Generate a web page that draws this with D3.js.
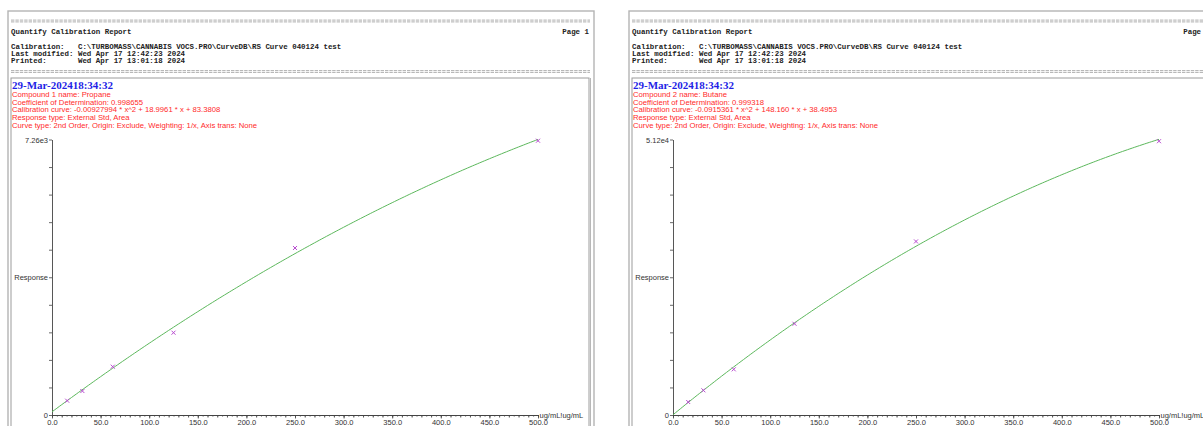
<!DOCTYPE html>
<html>
<head>
<meta charset="utf-8">
<script src="https://cdn.jsdelivr.net/npm/d3@7"></script>
<style>
  html, body { margin: 0; padding: 0; background: #fff; }
  svg { display: block; }
  .mono { font-family: "Liberation Mono", "DejaVu Sans Mono", monospace; font-weight: bold; fill: #222; }
  .sans { font-family: "Liberation Sans", Arial, sans-serif; }
</style>
</head>
<body>
<svg id="chart" width="1203" height="426"></svg>
<script>
// Calibration standards (ug/mL) shared by both compounds
const concentrations = [15.625, 31.25, 62.5, 125, 250, 500];

// Measured responses (area) per compound
const propaneResponse = [377, 632, 1273, 2169, 4401, 7228];
const butaneResponse  = [2414, 4587, 8487, 16955, 32257, 50884];

// Quadratic calibration coefficients [a, b, c] for a*x^2 + b*x + c
const propaneCoef = [-0.00927994, 18.9961, 83.3808];
const butaneCoef  = [-0.0915361, 148.160, 38.4953];

// Response axis maxima and their labels
const responseMax    = [7260, 51200];
const responseLabels = ["7.26e3", "5.12e4"];

// Concentration axis ticks
const xMajorTicks = [0, 50, 100, 150, 200, 250, 300, 350, 400, 450, 500];
const xDomain = [0, 500];

// Report header text
const headerLines = [
  "Calibration:   C:\\TURBOMASS\\CANNABIS VOCS.PRO\\CurveDB\\RS Curve 040124 test",
  "Last modified: Wed Apr 17 12:42:23 2024",
  "Printed:       Wed Apr 17 13:01:18 2024"
];
const runStamp = "29-Mar-202418:34:32";
const compoundNames = ["Compound 1 name: Propane", "Compound 2 name: Butane"];
const r2Values = ["0.998655", "0.999318"];
const curveText = [
  "Calibration curve: -0.00927994 * x^2 + 18.9961 * x + 83.3808",
  "Calibration curve: -0.0915361 * x^2 + 148.160 * x + 38.4953"
];
const pageLabels = ["Page 1", "Page 1"];

const svg = d3.select("#chart");

function drawPage(i, dx) {
  const g = svg.append("g").attr("transform", `translate(${dx},0)`);

  // paper outline
  g.append("rect").attr("x", 8).attr("y", 11).attr("width", 586).attr("height", 600)
    .attr("fill", "#fff").attr("stroke", "#b4b4b4").attr("stroke-width", 1.4);

  // "====" separator rules
  [21, 71.5].forEach(yy => {
    [-0.9, 0.9].forEach(o => {
      g.append("line").attr("x1", 11).attr("x2", 590).attr("y1", yy + o).attr("y2", yy + o)
        .attr("stroke", "#9a9a9a").attr("stroke-width", 0.8).attr("stroke-dasharray", "3.4,1");
    });
  });

  g.append("text").attr("class", "mono").attr("x", 11).attr("y", 34)
    .attr("font-size", 7.45).text("Quantify Calibration Report");
  g.append("text").attr("class", "mono").attr("x", 589).attr("y", 34)
    .attr("font-size", 7.45).attr("text-anchor", "end").text(pageLabels[i]);

  headerLines.forEach((t, k) => {
    g.append("text").attr("class", "mono").attr("x", 11).attr("y", 48.5 + k * 7.4)
      .attr("font-size", 7.45).attr("xml:space", "preserve").style("white-space", "pre").text(t);
  });

  // result panel
  g.append("rect").attr("x", 11).attr("y", 78).attr("width", 578).attr("height", 600)
    .attr("fill", "none").attr("stroke", "#9c9c9c").attr("stroke-width", 1);
  g.append("line").attr("x1", 590.5).attr("x2", 590.5).attr("y1", 78).attr("y2", 426)
    .attr("stroke", "#b8b8b8").attr("stroke-width", 1);

  g.append("text").attr("x", 12).attr("y", 88.5)
    .attr("font-family", "'Liberation Serif', 'Times New Roman', serif")
    .attr("font-weight", "bold").attr("font-size", 11).attr("fill", "#1f1fe6").text(runStamp);

  const info = [
    compoundNames[i],
    "Coefficient of Determination: " + r2Values[i],
    curveText[i],
    "Response type: External Std, Area",
    "Curve type: 2nd Order, Origin: Exclude, Weighting: 1/x, Axis trans: None"
  ];
  info.forEach((t, k) => {
    g.append("text").attr("class", "sans").attr("x", 12).attr("y", 97 + k * 7.7)
      .attr("font-size", 7.7).attr("fill", "#ff2a2a").text(t);
  });

  // scales
  const x = d3.scaleLinear().domain(xDomain).range([52, 538]);
  const y = d3.scaleLinear().domain([0, responseMax[i]]).range([415, 139.5]);

  // response axis
  const yTicks = d3.range(0, 11).map(k => k * responseMax[i] / 10);
  const yAxis = d3.axisLeft(y).tickValues(yTicks).tickSize(3).tickSizeOuter(0).tickPadding(1)
    .tickFormat((d, k) => k === 0 ? "0" : k === 5 ? "Response" : k === 10 ? responseLabels[i] : "");
  const ya = g.append("g").attr("transform", "translate(52,0)").call(yAxis);

  // concentration axis: minor ticks then labelled majors
  const xMinor = d3.axisBottom(x).tickValues(d3.range(0, 501, 5)).tickSize(1.6).tickSizeOuter(0).tickFormat("");
  const xMid = d3.axisBottom(x).tickValues(d3.range(0, 501, 10)).tickSize(2.6).tickSizeOuter(0).tickFormat("");
  const xAxis = d3.axisBottom(x).tickValues(xMajorTicks).tickSize(3.5).tickSizeOuter(0).tickPadding(1)
    .tickFormat(d3.format(".1f"));
  g.append("g").attr("transform", "translate(0,415)").call(xMinor);
  g.append("g").attr("transform", "translate(0,415)").call(xMid);
  g.append("g").attr("transform", "translate(0,415)").call(xAxis);

  g.selectAll(".domain").attr("stroke", "#444").attr("stroke-width", 0.9);
  g.selectAll(".tick line").attr("stroke", "#444").attr("stroke-width", 0.8);
  g.selectAll(".tick text").attr("fill", "#333")
    .attr("font-family", "'Liberation Sans', Arial, sans-serif").attr("font-size", 7.5);
  ya.selectAll(".tick text").attr("dy", "0.35em");

  g.append("text").attr("class", "sans").attr("x", 539.5).attr("y", 417.5)
    .attr("font-size", 7.5).attr("fill", "#333").text("ug/mL!ug/mL");

  // fitted calibration curve from the stated coefficients
  const [a, b, c] = i === 0 ? propaneCoef : butaneCoef;
  const curveX = d3.range(0, 500.01, 2.5);
  const line = d3.line().x(d => x(d)).y(d => y(a * d * d + b * d + c));
  g.append("path").datum(curveX).attr("d", line)
    .attr("fill", "none").attr("stroke", "#5cb85c").attr("stroke-width", 1);

  // standards
  const resp = i === 0 ? propaneResponse : butaneResponse;
  const pts = concentrations.map((cx, k) => [cx, resp[k]]);
  const s = 2;
  g.selectAll(".pt").data(pts).enter().append("path").attr("class", "pt")
    .attr("d", d => {
      const px = x(d[0]), py = y(d[1]);
      return `M${px - s},${py - s}L${px + s},${py + s}M${px - s},${py + s}L${px + s},${py - s}`;
    })
    .attr("stroke", "#b84cd0").attr("stroke-width", 1).attr("fill", "none");
}

drawPage(0, 0);
drawPage(1, 621);
</script>
</body>
</html>
